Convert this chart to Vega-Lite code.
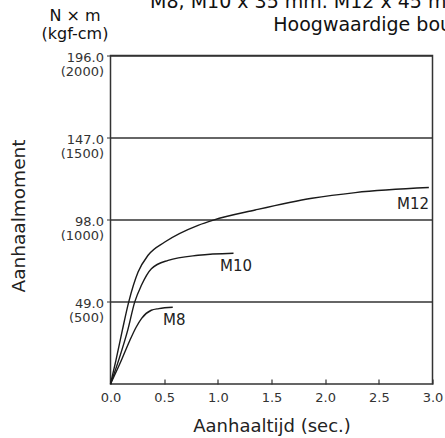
{
  "$schema": "https://vega.github.io/schema/vega-lite/v6.json",
  "autosize": "none",
  "width": 322,
  "height": 328.5,
  "padding": {"left": 110.5, "top": 55.5, "right": 12.5, "bottom": 54},
  "background": "white",
  "config": {
    "font": "DejaVu Sans",
    "view": {"stroke": "#333", "strokeWidth": 1.5},
    "text": {"font": "DejaVu Sans"}
  },
  "datasets": {
    "curves": [
      {"series": "M8", "t": 0, "v": 0},
      {"series": "M8", "t": 0.09, "v": 12.5},
      {"series": "M8", "t": 0.18, "v": 26},
      {"series": "M8", "t": 0.24, "v": 34},
      {"series": "M8", "t": 0.29, "v": 39.2},
      {"series": "M8", "t": 0.38, "v": 44},
      {"series": "M8", "t": 0.45, "v": 45},
      {"series": "M8", "t": 0.58, "v": 45.8},
      {"series": "M10", "t": 0, "v": 0},
      {"series": "M10", "t": 0.08, "v": 15},
      {"series": "M10", "t": 0.16, "v": 32},
      {"series": "M10", "t": 0.226, "v": 49},
      {"series": "M10", "t": 0.288, "v": 58.9},
      {"series": "M10", "t": 0.381, "v": 68.8},
      {"series": "M10", "t": 0.537, "v": 73.8},
      {"series": "M10", "t": 0.816, "v": 76.8},
      {"series": "M10", "t": 1.146, "v": 78},
      {"series": "M12", "t": 0, "v": 0},
      {"series": "M12", "t": 0.05, "v": 14},
      {"series": "M12", "t": 0.11, "v": 32},
      {"series": "M12", "t": 0.17, "v": 49},
      {"series": "M12", "t": 0.257, "v": 66.8},
      {"series": "M12", "t": 0.35, "v": 76.8},
      {"series": "M12", "t": 0.506, "v": 84.7},
      {"series": "M12", "t": 0.816, "v": 94.7},
      {"series": "M12", "t": 0.959, "v": 97.8},
      {"series": "M12", "t": 1.348, "v": 103.8},
      {"series": "M12", "t": 1.877, "v": 110.8},
      {"series": "M12", "t": 2.281, "v": 114.2},
      {"series": "M12", "t": 2.966, "v": 117.2}
    ],
    "labels": [
      {"series": "M8", "t": 0.49, "v": 38},
      {"series": "M10", "t": 1.021, "v": 70.4},
      {"series": "M12", "t": 2.67, "v": 107.2}
    ],
    "heading": [
      {"line": "M8, M10 x 35 mm. M12 x 45 mm", "t": 0.369, "v": 224.3},
      {"line": "Hoogwaardige bouten", "t": 1.517, "v": 210.6}
    ],
    "units": [
      {"line": "N × m", "t": -0.331, "v": 216.5},
      {"line": "(kgf-cm)", "t": -0.331, "v": 205.8}
    ]
  },
  "layer": [
    {
      "data": {"name": "curves"},
      "mark": {"type": "line", "interpolate": "monotone", "strokeWidth": 1.4, "color": "#1a1a1a", "clip": false},
      "encoding": {
        "x": {
          "field": "t", "type": "quantitative",
          "scale": {"domain": [0, 3], "nice": false, "zero": false},
          "axis": {
            "values": [0, 0.5, 1, 1.5, 2, 2.5, 3],
            "format": ".1f",
            "title": "Aanhaaltijd (sec.)",
            "titleFont": "DejaVu Sans",
            "titleFontSize": 18,
            "titleFontWeight": "normal",
            "titleColor": "#222",
            "titlePadding": 13,
            "labelFont": "DejaVu Sans",
            "labelFontSize": 13,
            "labelColor": "#333",
            "labelPadding": 12,
            "tickSize": -5,
            "tickColor": "#333",
            "tickWidth": 1.2,
            "domain": false,
            "grid": false,
            "labelFlush": false
          }
        },
        "y": {
          "field": "v", "type": "quantitative",
          "scale": {"domain": [0, 196], "nice": false, "zero": true},
          "axis": {
            "values": [49, 98, 147, 196],
            "labelExpr": "[format(datum.value, '.1f'), '(' + format(round(datum.value / 0.098), 'd') + ')']",
            "title": "Aanhaalmoment",
            "titleFont": "DejaVu Sans",
            "titleFontSize": 18.5,
            "titleFontWeight": "normal",
            "titleColor": "#222",
            "titlePadding": 32,
            "titleY": 160,
            "labelFont": "DejaVu Sans",
            "labelFontSize": 13,
            "labelColor": "#333",
            "labelLineHeight": 14,
            "labelBaseline": "top",
            "labelOffset": -4,
            "labelPadding": 3,
            "tickSize": 4,
            "tickColor": "#333",
            "domain": false,
            "grid": true,
            "gridColor": "#333",
            "gridWidth": 1.3,
            "gridOpacity": 1,
            "labelFlush": false
          }
        },
        "detail": {"field": "series"}
      }
    },
    {
      "data": {"name": "labels"},
      "mark": {"type": "text", "fontSize": 15, "color": "#222", "baseline": "middle", "align": "left", "clip": false},
      "encoding": {
        "x": {"field": "t", "type": "quantitative"},
        "y": {"field": "v", "type": "quantitative"},
        "text": {"field": "series"}
      }
    },
    {
      "data": {"name": "heading"},
      "mark": {"type": "text", "fontSize": 19, "color": "#111", "baseline": "alphabetic", "align": "left", "clip": false},
      "encoding": {
        "x": {"field": "t", "type": "quantitative"},
        "y": {"field": "v", "type": "quantitative"},
        "text": {"field": "line"}
      }
    },
    {
      "data": {"name": "units"},
      "mark": {"type": "text", "fontSize": 16, "color": "#111", "baseline": "alphabetic", "align": "center", "clip": false},
      "encoding": {
        "x": {"field": "t", "type": "quantitative"},
        "y": {"field": "v", "type": "quantitative"},
        "text": {"field": "line"}
      }
    }
  ]
}
